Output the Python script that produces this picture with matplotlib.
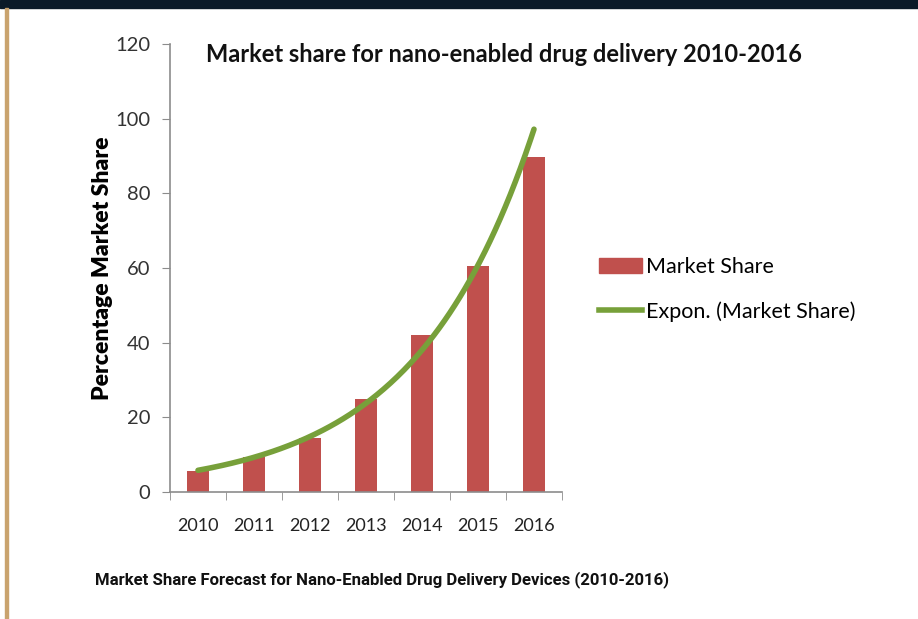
import matplotlib.pyplot as plt
import numpy as np
from matplotlib.patches import Rectangle
from matplotlib.lines import Line2D

years = ['2010', '2011', '2012', '2013', '2014', '2015', '2016']
market_share = [5.6, 9.3, 14.4, 25.0, 42.0, 60.6, 89.8]
yticks = [0, 20, 40, 60, 80, 100, 120]

bar_color = '#C0504D'
trend_color = '#77A03A'
axis_color = '#8C8C8C'
font = ['Lato', 'DejaVu Sans']

fig = plt.figure(figsize=(9.18, 6.19), dpi=100)
fig.patch.set_facecolor('white')

# page decoration: dark band on top, tan rule on the left
fig.add_artist(Rectangle((0, 1 - 8 / 619), 1, 8 / 619, transform=fig.transFigure,
                         color='#0B1A28', zorder=0))
fig.add_artist(Rectangle((5 / 918, 0), 3 / 918, 1 - 8 / 619, transform=fig.transFigure,
                         color='#C9A36E', zorder=0))

ax = fig.add_axes([170 / 918, 127 / 619, 392 / 918, 448 / 619])
x = np.arange(len(years))
ax.bar(x, market_share, width=0.4, color=bar_color, zorder=2)

# Excel-style exponential trendline fitted on the bars
b, ln_a = np.polyfit(x, np.log(market_share), 1)
xs = np.linspace(0, len(years) - 1, 200)
ax.plot(xs, np.exp(ln_a + b * xs), color=trend_color, lw=4, solid_capstyle='round', zorder=3)

ax.set_xlim(-0.5, len(years) - 0.5)
ax.set_ylim(0, 120)
ax.set_yticks(yticks)
ax.set_xticks(x)
ax.set_xticklabels(years)
ax.set_xticks(np.arange(-0.5, len(years)), minor=True)
ax.tick_params(axis='x', which='major', length=0, pad=19)
ax.tick_params(axis='x', which='minor', length=6, color=axis_color)
ax.tick_params(axis='y', length=6, color=axis_color, pad=8)
for lab in ax.get_xticklabels():
    lab.set_family(font)
    lab.set_fontsize(13)
    lab.set_color('#222222')
for lab in ax.get_yticklabels():
    lab.set_family(font)
    lab.set_fontsize(14.5)
    lab.set_color('#333333')
for s in ['top', 'right']:
    ax.spines[s].set_visible(False)
for s in ['left', 'bottom']:
    ax.spines[s].set_color(axis_color)
    ax.spines[s].set_linewidth(1.2)

ax.set_ylabel('Percentage Market Share', fontsize=16.5, fontweight='heavy',
              family=font, labelpad=2)
fig.text(504 / 918, 1 - 54 / 619, 'Market share for nano-enabled drug delivery 2010-2016',
         ha='center', va='center', fontsize=17, fontweight='bold',
         family=font, color='#111111')

handles = [Rectangle((0, 0), 1, 1, color=bar_color),
           Line2D([0], [0], color=trend_color, lw=4)]
fig.legend(handles, ['Market Share', 'Expon. (Market Share)'],
           loc='upper left', bbox_to_anchor=(580 / 918, 1 - 238 / 619),
           frameon=False, prop={'family': font, 'size': 15.5},
           handlelength=2.0, handletextpad=0.15, labelspacing=1.1)

fig.text(95 / 918, 1 - 580 / 619,
         'Market Share Forecast for Nano-Enabled Drug Delivery Devices (2010-2016)',
         ha='left', va='center', fontsize=12.1, fontweight='bold',
         family=['Roboto', 'DejaVu Sans'], color='#111111')

fig.savefig('out.png', dpi=100)
